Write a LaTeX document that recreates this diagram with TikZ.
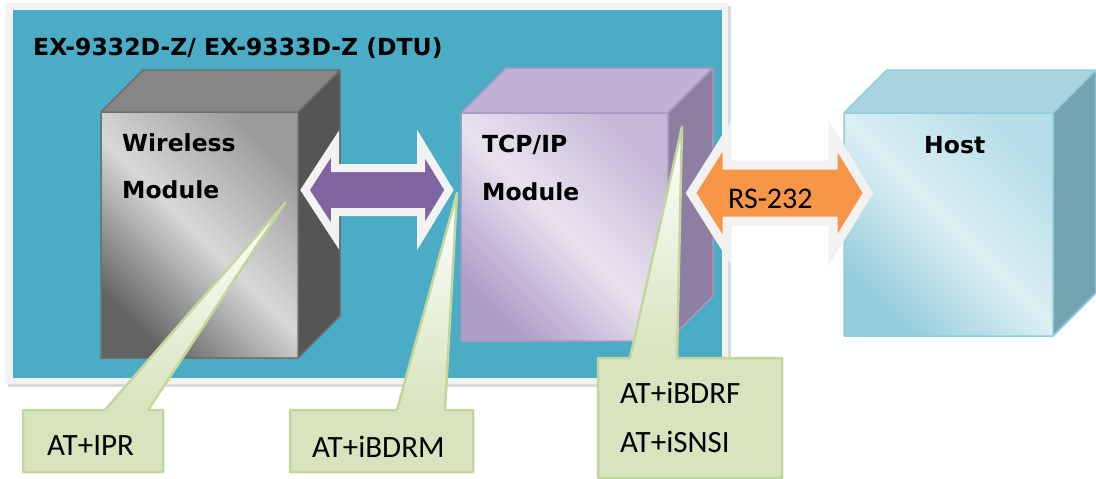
\documentclass[tikz,border=0pt]{standalone}
\usepackage{fontspec}
\setmainfont{Carlito}
\newfontfamily\labelfont{DejaVu Sans}
\usetikzlibrary{shadows}

\definecolor{panelteal}{HTML}{4BACC6}
\definecolor{panelrim}{HTML}{F2F2F2}
\definecolor{arrowpurple}{HTML}{8064A2}
\definecolor{arroworange}{HTML}{F79646}
\definecolor{calloutfill}{HTML}{D7E4BD}
\definecolor{calloutline}{HTML}{C3D69B}
% cube colours: top, side, front dark/light/mid, outline
\definecolor{wlstop}{HTML}{878787}
\definecolor{wlsside}{HTML}{555555}
\definecolor{wlsdark}{HTML}{636363}
\definecolor{wlslight}{HTML}{D8D8D8}
\definecolor{wlsmid}{HTML}{9C9C9C}
\definecolor{wlsline}{HTML}{6E6E6E}
\definecolor{tcptop}{HTML}{C0B1D5}
\definecolor{tcpside}{HTML}{8E7EA2}
\definecolor{tcpdark}{HTML}{AF9DC8}
\definecolor{tcplight}{HTML}{E8E3EF}
\definecolor{tcpmid}{HTML}{C6B9D8}
\definecolor{tcpline}{HTML}{A898C4}
\definecolor{hsttop}{HTML}{A9D5E1}
\definecolor{hstside}{HTML}{74A4B0}
\definecolor{hstdark}{HTML}{93CDDC}
\definecolor{hstlight}{HTML}{DCEFF4}
\definecolor{hstmid}{HTML}{B6DEE8}
\definecolor{hstline}{HTML}{92CDDC}

\tikzset{
  boxlabel/.style={font=\labelfont\bfseries\fontsize{23.5}{28}\selectfont, anchor=base west, inner sep=0pt},
  cmdlabel/.style={font=\fontsize{31}{36}\selectfont, anchor=base west, inner sep=0pt},
  blockarrow/.style={draw=panelrim, miter limit=10, line join=miter},
  softshadow/.style={drop shadow={shadow xshift=3pt, shadow yshift=-3pt, opacity=.3}}
}

% #1,#2 front top-left, #3 width, #4 height, #5 depth, #6 colour prefix
\newcommand{\cubebox}[6]{%
  \fill[#6top] (#1,#2) -- ++(#5,-#5) -- ++(#3,0) -- ++(-#5,#5) -- cycle;
  \fill[#6side] (#1+#3,#2) -- ++(#5,-#5) -- ++(0,#4) -- ++(-#5,#5) -- cycle;
  \shade[top color=#6mid, bottom color=#6dark, middle color=#6light, shading angle=-45]
    (#1,#2) rectangle ++(#3,#4);
  \draw[#6line, line width=1.5pt, line join=round]
    (#1,#2) rectangle ++(#3,#4)
    (#1,#2) -- ++(#5,-#5) -- ++(#3,0) -- ++(0,#4) -- ++(-#5,#5)
    (#1+#3,#2) -- ++(#5,-#5);
}

% #1 left, #2 top, #3 right, #4 bottom, #5/#6 pointer base, #7 tip
\newcommand{\callout}[7]{%
  \fill[calloutfill] (#1,#2) -- (#5,#2) -- #7 -- (#6,#2) -- (#3,#2) -- (#3,#4) -- (#1,#4) -- cycle;
  \shade[top color=white, bottom color=calloutfill] (#5,#2) -- #7 -- (#6,#2) -- cycle;
  \draw[calloutline, line width=2.5pt, line join=round]
    (#1,#2) -- (#5,#2) -- #7 -- (#6,#2) -- (#3,#2) -- (#3,#4) -- (#1,#4) -- cycle;
}

\begin{document}
\begin{tikzpicture}[x=1pt,y=-1pt]
  \useasboundingbox (0,0) rectangle (1096,479);

  % DTU panel
  \fill[panelrim, softshadow] (5,3) rectangle (728,384);
  \fill[panelteal] (13,10) rectangle (722,378);
  \node[boxlabel] (title) at (33,55) {EX-9332D-Z/ EX-9333D-Z (DTU)};

  % modules
  \cubebox{101}{112}{197}{246}{42}{wls}
  \cubebox{461}{113}{207}{228}{45}{tcp}
  \cubebox{844}{113}{209}{223}{43}{hst}

  \node[boxlabel] (wireless) at (122,151) {Wireless};
  \node[boxlabel] (wmodule) at (122,198) {Module};
  \node[boxlabel] (tcpip) at (482,152) {TCP/IP};
  \node[boxlabel] (tmodule) at (482,200) {Module};
  \node[boxlabel] (host) at (924,153) {Host};

  % links
  \filldraw[blockarrow, softshadow, line width=8pt, fill=arrowpurple]
    (305,190) -- (335,144) -- (335,168) -- (421,168) -- (421,144) -- (449,190)
    -- (421,236) -- (421,212) -- (335,212) -- (335,236) -- cycle;
  \filldraw[blockarrow, softshadow, line width=9pt, fill=arroworange]
    (691,193) -- (727,136) -- (727,165) -- (833,165) -- (833,136) -- (868,193)
    -- (833,250) -- (833,221) -- (727,221) -- (727,250) -- cycle;
  \node[cmdlabel, font=\fontsize{30}{34}\selectfont] (rs232) at (728,208) {RS-232};

  % AT commands
  \callout{23}{410}{163}{472}{105}{148}{(285,203)}
  \callout{290}{410}{473}{472}{397}{445}{(457,193)}
  \callout{598}{358}{782}{478}{630}{677}{(682,127)}

  \node[cmdlabel] (cmdipr) at (47,455) {AT+IPR};
  \node[cmdlabel] (cmdbdrm) at (312,457) {AT+iBDRM};
  \node[cmdlabel] (cmdbdrf) at (620,403) {AT+iBDRF};
  \node[cmdlabel] (cmdsnsi) at (620,452) {AT+iSNSI};
\end{tikzpicture}
\end{document}
